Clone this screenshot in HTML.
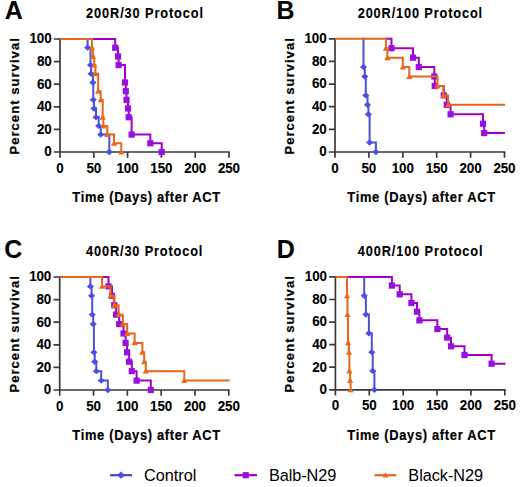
<!DOCTYPE html>
<html><head><meta charset="utf-8"><style>
html,body{margin:0;padding:0;background:#fff;width:520px;height:487px;overflow:hidden}
svg{display:block}
text{font-family:"Liberation Sans",sans-serif;fill:#000}
.L{font-size:25px;font-weight:bold}
.T{font-size:13.3px;font-weight:bold;stroke:#000;stroke-width:0.12px}
.Y{font-size:13px;font-weight:bold;stroke:#000;stroke-width:0.2px}
.X{font-size:13.6px;font-weight:bold;stroke:#000;stroke-width:0.2px}
.N{font-size:13.4px;font-weight:bold;stroke:#000;stroke-width:0.12px}
.G{font-size:16.3px}
</style></head><body>
<svg width="520" height="487" viewBox="0 0 520 487">
<text x="4.8" y="19.1" class="L">A</text>
<text transform="translate(86.1,17.6) scale(0.96,1.07)" class="T" textLength="121.77" lengthAdjust="spacing">200R/30 Protocol</text>
<text transform="translate(18.6,96.4) rotate(-90)" x="0" y="0" class="Y" text-anchor="middle" textLength="116.4" lengthAdjust="spacing">Percent survival</text>
<text transform="translate(146.2,201.9) scale(0.95,1.07)" class="X" text-anchor="middle" textLength="155.47" lengthAdjust="spacing">Time (Days) after ACT</text>
<path d="M60 38.2V152H229.8" fill="none" stroke="#3a3a3a" stroke-width="1.7"/>
<path d="M53.8 152H60M60 152V157.8M53.8 129.4H60M93.8 152V157.8M53.8 106.8H60M127.6 152V157.8M53.8 84.2H60M161.4 152V157.8M53.8 61.6H60M195.2 152V157.8M53.8 39H60M229 152V157.8" fill="none" stroke="#3a3a3a" stroke-width="1.7"/>
<text transform="translate(51.6,156.3) scale(1.0,1.07)" class="N" text-anchor="end" textLength="7.25" lengthAdjust="spacing">0</text>
<text transform="translate(60,172.5) scale(1.0,1.07)" class="N" text-anchor="middle" textLength="7.25" lengthAdjust="spacing">0</text>
<text transform="translate(51.6,133.7) scale(1.0,1.07)" class="N" text-anchor="end" textLength="14.7" lengthAdjust="spacing">20</text>
<text transform="translate(93.8,172.5) scale(1.0,1.07)" class="N" text-anchor="middle" textLength="14.7" lengthAdjust="spacing">50</text>
<text transform="translate(51.6,111.1) scale(1.0,1.07)" class="N" text-anchor="end" textLength="14.7" lengthAdjust="spacing">40</text>
<text transform="translate(127.6,172.5) scale(1.0,1.07)" class="N" text-anchor="middle" textLength="22.15" lengthAdjust="spacing">100</text>
<text transform="translate(51.6,88.5) scale(1.0,1.07)" class="N" text-anchor="end" textLength="14.7" lengthAdjust="spacing">60</text>
<text transform="translate(161.4,172.5) scale(1.0,1.07)" class="N" text-anchor="middle" textLength="22.15" lengthAdjust="spacing">150</text>
<text transform="translate(51.6,65.9) scale(1.0,1.07)" class="N" text-anchor="end" textLength="14.7" lengthAdjust="spacing">80</text>
<text transform="translate(195.2,172.5) scale(1.0,1.07)" class="N" text-anchor="middle" textLength="22.15" lengthAdjust="spacing">200</text>
<text transform="translate(51.6,43.3) scale(1.0,1.07)" class="N" text-anchor="end" textLength="22.15" lengthAdjust="spacing">100</text>
<text transform="translate(229,172.5) scale(1.0,1.07)" class="N" text-anchor="middle" textLength="22.15" lengthAdjust="spacing">250</text>
<path d="M86.6 39H87.6V47.7H90.5V65.1H91.1V73.8H92.9V82.51H93.3V99.79H94V108.5H96V117.2H98.7V125.9H100.7V134.6H109.3V152" fill="none" stroke="#4d4fd6" stroke-width="2"/>
<path d="M87.6 44.53L91.2 47.7L87.6 50.87L84 47.7Z" fill="#4a50e4"/><path d="M90.5 61.94L94.1 65.1L90.5 68.27L86.9 65.1Z" fill="#4a50e4"/><path d="M91.1 70.64L94.7 73.8L91.1 76.97L87.5 73.8Z" fill="#4a50e4"/><path d="M92.9 79.34L96.5 82.51L92.9 85.67L89.3 82.51Z" fill="#4a50e4"/><path d="M93.3 96.63L96.9 99.79L93.3 102.96L89.7 99.79Z" fill="#4a50e4"/><path d="M94 105.33L97.6 108.5L94 111.66L90.4 108.5Z" fill="#4a50e4"/><path d="M96 114.03L99.6 117.2L96 120.36L92.4 117.2Z" fill="#4a50e4"/><path d="M98.7 122.73L102.3 125.9L98.7 129.06L95.1 125.9Z" fill="#4a50e4"/><path d="M100.7 131.43L104.3 134.6L100.7 137.77L97.1 134.6Z" fill="#4a50e4"/><path d="M109.3 148.83L112.9 152L109.3 155.17L105.7 152Z" fill="#4a50e4"/>
<path d="M91 39H115.2V47.7H118V56.4H118.6V65.1H125V82.51H125.8V91.21H126.5V99.79H128V108.5H128.7V117.2H131.6V134.6H150.3V143.3H161.7V152" fill="none" stroke="#a200c4" stroke-width="2"/>
<rect x="112.1" y="44.6" width="6.2" height="6.2" fill="#9610e0"/><rect x="114.9" y="53.3" width="6.2" height="6.2" fill="#9610e0"/><rect x="115.5" y="62" width="6.2" height="6.2" fill="#9610e0"/><rect x="121.9" y="79.41" width="6.2" height="6.2" fill="#9610e0"/><rect x="122.7" y="88.11" width="6.2" height="6.2" fill="#9610e0"/><rect x="123.4" y="96.69" width="6.2" height="6.2" fill="#9610e0"/><rect x="124.9" y="105.4" width="6.2" height="6.2" fill="#9610e0"/><rect x="125.6" y="114.1" width="6.2" height="6.2" fill="#9610e0"/><rect x="128.5" y="131.5" width="6.2" height="6.2" fill="#9610e0"/><rect x="147.2" y="140.2" width="6.2" height="6.2" fill="#9610e0"/><rect x="158.6" y="148.9" width="6.2" height="6.2" fill="#9610e0"/>
<path d="M60 39H92V47.7H92.9V56.4H94.2V65.1H95.4V73.8H98.2V91.21H100.7V99.79H102.7V117.2H103.3V125.9H107.3V134.6H114V143.3H121.3V152" fill="none" stroke="#e4661f" stroke-width="2"/>
<path d="M92 44.6L95.1 50.18L88.9 50.18Z" fill="#ec6819"/><path d="M92.9 53.3L96 58.88L89.8 58.88Z" fill="#ec6819"/><path d="M94.2 62L97.3 67.58L91.1 67.58Z" fill="#ec6819"/><path d="M95.4 70.7L98.5 76.28L92.3 76.28Z" fill="#ec6819"/><path d="M98.2 88.11L101.3 93.69L95.1 93.69Z" fill="#ec6819"/><path d="M100.7 96.69L103.8 102.27L97.6 102.27Z" fill="#ec6819"/><path d="M102.7 114.1L105.8 119.68L99.6 119.68Z" fill="#ec6819"/><path d="M103.3 122.8L106.4 128.38L100.2 128.38Z" fill="#ec6819"/><path d="M107.3 131.5L110.4 137.08L104.2 137.08Z" fill="#ec6819"/><path d="M114 140.2L117.1 145.78L110.9 145.78Z" fill="#ec6819"/><path d="M121.3 148.9L124.4 154.48L118.2 154.48Z" fill="#ec6819"/>
<text x="276.5" y="18.8" class="L">B</text>
<text transform="translate(357.7,17.6) scale(0.96,1.07)" class="T" textLength="129.58" lengthAdjust="spacing">200R/100 Protocol</text>
<text transform="translate(293.6,96.4) rotate(-90)" x="0" y="0" class="Y" text-anchor="middle" textLength="116.4" lengthAdjust="spacing">Percent survival</text>
<text transform="translate(421.2,201.9) scale(0.95,1.07)" class="X" text-anchor="middle" textLength="155.47" lengthAdjust="spacing">Time (Days) after ACT</text>
<path d="M335 38V152H505.3" fill="none" stroke="#3a3a3a" stroke-width="1.7"/>
<path d="M328.8 152H335M335 152V157.8M328.8 129.36H335M368.9 152V157.8M328.8 106.72H335M402.8 152V157.8M328.8 84.08H335M436.7 152V157.8M328.8 61.44H335M470.6 152V157.8M328.8 38.8H335M504.5 152V157.8" fill="none" stroke="#3a3a3a" stroke-width="1.7"/>
<text transform="translate(326.6,156.3) scale(1.0,1.07)" class="N" text-anchor="end" textLength="7.25" lengthAdjust="spacing">0</text>
<text transform="translate(335,172.5) scale(1.0,1.07)" class="N" text-anchor="middle" textLength="7.25" lengthAdjust="spacing">0</text>
<text transform="translate(326.6,133.66) scale(1.0,1.07)" class="N" text-anchor="end" textLength="14.7" lengthAdjust="spacing">20</text>
<text transform="translate(368.9,172.5) scale(1.0,1.07)" class="N" text-anchor="middle" textLength="14.7" lengthAdjust="spacing">50</text>
<text transform="translate(326.6,111.02) scale(1.0,1.07)" class="N" text-anchor="end" textLength="14.7" lengthAdjust="spacing">40</text>
<text transform="translate(402.8,172.5) scale(1.0,1.07)" class="N" text-anchor="middle" textLength="22.15" lengthAdjust="spacing">100</text>
<text transform="translate(326.6,88.38) scale(1.0,1.07)" class="N" text-anchor="end" textLength="14.7" lengthAdjust="spacing">60</text>
<text transform="translate(436.7,172.5) scale(1.0,1.07)" class="N" text-anchor="middle" textLength="22.15" lengthAdjust="spacing">150</text>
<text transform="translate(326.6,65.74) scale(1.0,1.07)" class="N" text-anchor="end" textLength="14.7" lengthAdjust="spacing">80</text>
<text transform="translate(470.6,172.5) scale(1.0,1.07)" class="N" text-anchor="middle" textLength="22.15" lengthAdjust="spacing">200</text>
<text transform="translate(326.6,43.1) scale(1.0,1.07)" class="N" text-anchor="end" textLength="22.15" lengthAdjust="spacing">100</text>
<text transform="translate(504.5,172.5) scale(1.0,1.07)" class="N" text-anchor="middle" textLength="22.15" lengthAdjust="spacing">250</text>
<path d="M362.5 38.8H363.5V67.1H364.8V76.5H365.8V95.4H367.5V104.8H368.4V114.3H369.6V142.6H375.9V152" fill="none" stroke="#4d4fd6" stroke-width="2"/>
<path d="M363.5 63.93L367.1 67.1L363.5 70.27L359.9 67.1Z" fill="#4a50e4"/><path d="M364.8 73.33L368.4 76.5L364.8 79.66L361.2 76.5Z" fill="#4a50e4"/><path d="M365.8 92.23L369.4 95.4L365.8 98.57L362.2 95.4Z" fill="#4a50e4"/><path d="M367.5 101.63L371.1 104.8L367.5 107.96L363.9 104.8Z" fill="#4a50e4"/><path d="M368.4 111.14L372 114.3L368.4 117.47L364.8 114.3Z" fill="#4a50e4"/><path d="M369.6 139.44L373.2 142.6L369.6 145.77L366 142.6Z" fill="#4a50e4"/><path d="M375.9 148.83L379.5 152L375.9 155.17L372.3 152Z" fill="#4a50e4"/>
<path d="M384.9 38.8H391.5V48.2H413V57.7H418.8V67.1H434.3V76.5H434.7V86H443.8V95.4H446.8V104.8H450.6V114.3H483V123.7H484.2V133.1H505" fill="none" stroke="#a200c4" stroke-width="2"/>
<rect x="388.4" y="45.1" width="6.2" height="6.2" fill="#9610e0"/><rect x="409.9" y="54.6" width="6.2" height="6.2" fill="#9610e0"/><rect x="415.7" y="64" width="6.2" height="6.2" fill="#9610e0"/><rect x="431.2" y="73.4" width="6.2" height="6.2" fill="#9610e0"/><rect x="431.6" y="82.9" width="6.2" height="6.2" fill="#9610e0"/><rect x="440.7" y="92.3" width="6.2" height="6.2" fill="#9610e0"/><rect x="443.7" y="101.7" width="6.2" height="6.2" fill="#9610e0"/><rect x="447.5" y="111.2" width="6.2" height="6.2" fill="#9610e0"/><rect x="479.9" y="120.6" width="6.2" height="6.2" fill="#9610e0"/><rect x="481.1" y="130" width="6.2" height="6.2" fill="#9610e0"/>
<path d="M335 38.8H385.9V48.2H387.4V57.7H402.8V67.1H409.3V76.5H437.5V86H443.5V95.4H448V104.8H505" fill="none" stroke="#e4661f" stroke-width="2"/>
<path d="M385.9 45.1L389 50.68L382.8 50.68Z" fill="#ec6819"/><path d="M387.4 54.6L390.5 60.18L384.3 60.18Z" fill="#ec6819"/><path d="M402.8 64L405.9 69.58L399.7 69.58Z" fill="#ec6819"/><path d="M409.3 73.4L412.4 78.98L406.2 78.98Z" fill="#ec6819"/><path d="M437.5 82.9L440.6 88.48L434.4 88.48Z" fill="#ec6819"/><path d="M443.5 92.3L446.6 97.88L440.4 97.88Z" fill="#ec6819"/><path d="M448 101.7L451.1 107.28L444.9 107.28Z" fill="#ec6819"/>
<text x="4.2" y="258.1" class="L">C</text>
<text transform="translate(86.1,255.6) scale(0.96,1.07)" class="T" textLength="121.15" lengthAdjust="spacing">400R/30 Protocol</text>
<text transform="translate(18.6,334.4) rotate(-90)" x="0" y="0" class="Y" text-anchor="middle" textLength="116.4" lengthAdjust="spacing">Percent survival</text>
<text transform="translate(146.2,439.9) scale(0.95,1.07)" class="X" text-anchor="middle" textLength="155.47" lengthAdjust="spacing">Time (Days) after ACT</text>
<path d="M59.7 276.2V390H229.6" fill="none" stroke="#3a3a3a" stroke-width="1.7"/>
<path d="M53.5 390H59.7M59.7 390V395.8M53.5 367.4H59.7M93.52 390V395.8M53.5 344.8H59.7M127.34 390V395.8M53.5 322.2H59.7M161.16 390V395.8M53.5 299.6H59.7M194.98 390V395.8M53.5 277H59.7M228.8 390V395.8" fill="none" stroke="#3a3a3a" stroke-width="1.7"/>
<text transform="translate(51.3,394.3) scale(1.0,1.07)" class="N" text-anchor="end" textLength="7.25" lengthAdjust="spacing">0</text>
<text transform="translate(59.7,410.5) scale(1.0,1.07)" class="N" text-anchor="middle" textLength="7.25" lengthAdjust="spacing">0</text>
<text transform="translate(51.3,371.7) scale(1.0,1.07)" class="N" text-anchor="end" textLength="14.7" lengthAdjust="spacing">20</text>
<text transform="translate(93.52,410.5) scale(1.0,1.07)" class="N" text-anchor="middle" textLength="14.7" lengthAdjust="spacing">50</text>
<text transform="translate(51.3,349.1) scale(1.0,1.07)" class="N" text-anchor="end" textLength="14.7" lengthAdjust="spacing">40</text>
<text transform="translate(127.34,410.5) scale(1.0,1.07)" class="N" text-anchor="middle" textLength="22.15" lengthAdjust="spacing">100</text>
<text transform="translate(51.3,326.5) scale(1.0,1.07)" class="N" text-anchor="end" textLength="14.7" lengthAdjust="spacing">60</text>
<text transform="translate(161.16,410.5) scale(1.0,1.07)" class="N" text-anchor="middle" textLength="22.15" lengthAdjust="spacing">150</text>
<text transform="translate(51.3,303.9) scale(1.0,1.07)" class="N" text-anchor="end" textLength="14.7" lengthAdjust="spacing">80</text>
<text transform="translate(194.98,410.5) scale(1.0,1.07)" class="N" text-anchor="middle" textLength="22.15" lengthAdjust="spacing">200</text>
<text transform="translate(51.3,281.3) scale(1.0,1.07)" class="N" text-anchor="end" textLength="22.15" lengthAdjust="spacing">100</text>
<text transform="translate(228.8,410.5) scale(1.0,1.07)" class="N" text-anchor="middle" textLength="22.15" lengthAdjust="spacing">250</text>
<path d="M89.4 277H90.4V286.38H91.6V295.87H92.2V314.63H93.2V324.12H93.9V352.37H94.7V361.75H96.3V371.13H101.2V380.62H107.8V390" fill="none" stroke="#4d4fd6" stroke-width="2"/>
<path d="M90.4 283.21L94 286.38L90.4 289.55L86.8 286.38Z" fill="#4a50e4"/><path d="M91.6 292.7L95.2 295.87L91.6 299.04L88 295.87Z" fill="#4a50e4"/><path d="M92.2 311.46L95.8 314.63L92.2 317.8L88.6 314.63Z" fill="#4a50e4"/><path d="M93.2 320.95L96.8 324.12L93.2 327.29L89.6 324.12Z" fill="#4a50e4"/><path d="M93.9 349.2L97.5 352.37L93.9 355.54L90.3 352.37Z" fill="#4a50e4"/><path d="M94.7 358.58L98.3 361.75L94.7 364.92L91.1 361.75Z" fill="#4a50e4"/><path d="M96.3 367.96L99.9 371.13L96.3 374.3L92.7 371.13Z" fill="#4a50e4"/><path d="M101.2 377.45L104.8 380.62L101.2 383.79L97.6 380.62Z" fill="#4a50e4"/><path d="M107.8 386.83L111.4 390L107.8 393.17L104.2 390Z" fill="#4a50e4"/>
<path d="M101 277H108.5V286.38H112V295.87H114.2V305.25H116.1V314.63H119.2V324.12H123.5V333.5H125.6V342.88H127.1V352.37H129.1V361.75H131.8V371.13H136.6V380.62H150.8V390" fill="none" stroke="#a200c4" stroke-width="2"/>
<rect x="105.4" y="283.28" width="6.2" height="6.2" fill="#9610e0"/><rect x="108.9" y="292.77" width="6.2" height="6.2" fill="#9610e0"/><rect x="111.1" y="302.15" width="6.2" height="6.2" fill="#9610e0"/><rect x="113" y="311.53" width="6.2" height="6.2" fill="#9610e0"/><rect x="116.1" y="321.02" width="6.2" height="6.2" fill="#9610e0"/><rect x="120.4" y="330.4" width="6.2" height="6.2" fill="#9610e0"/><rect x="122.5" y="339.78" width="6.2" height="6.2" fill="#9610e0"/><rect x="124" y="349.27" width="6.2" height="6.2" fill="#9610e0"/><rect x="126" y="358.65" width="6.2" height="6.2" fill="#9610e0"/><rect x="128.7" y="368.03" width="6.2" height="6.2" fill="#9610e0"/><rect x="133.5" y="377.52" width="6.2" height="6.2" fill="#9610e0"/><rect x="147.7" y="386.9" width="6.2" height="6.2" fill="#9610e0"/>
<path d="M59.7 277H102V286.38H110.5V295.87H114.2V305.25H118.6V314.63H122.9V324.12H127.2V333.5H134.6V342.88H142.4V352.37H144.2V361.75H145.8V371.13H184.3V380.62H229.6" fill="none" stroke="#e4661f" stroke-width="2"/>
<path d="M102 283.28L105.1 288.86L98.9 288.86Z" fill="#ec6819"/><path d="M110.5 292.77L113.6 298.35L107.4 298.35Z" fill="#ec6819"/><path d="M114.2 302.15L117.3 307.73L111.1 307.73Z" fill="#ec6819"/><path d="M118.6 311.53L121.7 317.11L115.5 317.11Z" fill="#ec6819"/><path d="M122.9 321.02L126 326.6L119.8 326.6Z" fill="#ec6819"/><path d="M127.2 330.4L130.3 335.98L124.1 335.98Z" fill="#ec6819"/><path d="M134.6 339.78L137.7 345.36L131.5 345.36Z" fill="#ec6819"/><path d="M142.4 349.27L145.5 354.85L139.3 354.85Z" fill="#ec6819"/><path d="M144.2 358.65L147.3 364.23L141.1 364.23Z" fill="#ec6819"/><path d="M145.8 368.03L148.9 373.61L142.7 373.61Z" fill="#ec6819"/><path d="M184.3 377.52L187.4 383.1L181.2 383.1Z" fill="#ec6819"/>
<text x="276.8" y="257.7" class="L">D</text>
<text transform="translate(357.7,255.6) scale(0.96,1.07)" class="T" textLength="130.1" lengthAdjust="spacing">400R/100 Protocol</text>
<text transform="translate(293.6,334.4) rotate(-90)" x="0" y="0" class="Y" text-anchor="middle" textLength="116.4" lengthAdjust="spacing">Percent survival</text>
<text transform="translate(421.2,439.9) scale(0.95,1.07)" class="X" text-anchor="middle" textLength="155.47" lengthAdjust="spacing">Time (Days) after ACT</text>
<path d="M335.4 276.1V389.8H505.6" fill="none" stroke="#3a3a3a" stroke-width="1.7"/>
<path d="M329.2 389.8H335.4M335.4 389.8V395.6M329.2 367.22H335.4M369.28 389.8V395.6M329.2 344.64H335.4M403.16 389.8V395.6M329.2 322.06H335.4M437.04 389.8V395.6M329.2 299.48H335.4M470.92 389.8V395.6M329.2 276.9H335.4M504.8 389.8V395.6" fill="none" stroke="#3a3a3a" stroke-width="1.7"/>
<text transform="translate(327,394.1) scale(1.0,1.07)" class="N" text-anchor="end" textLength="7.25" lengthAdjust="spacing">0</text>
<text transform="translate(335.4,410.3) scale(1.0,1.07)" class="N" text-anchor="middle" textLength="7.25" lengthAdjust="spacing">0</text>
<text transform="translate(327,371.52) scale(1.0,1.07)" class="N" text-anchor="end" textLength="14.7" lengthAdjust="spacing">20</text>
<text transform="translate(369.28,410.3) scale(1.0,1.07)" class="N" text-anchor="middle" textLength="14.7" lengthAdjust="spacing">50</text>
<text transform="translate(327,348.94) scale(1.0,1.07)" class="N" text-anchor="end" textLength="14.7" lengthAdjust="spacing">40</text>
<text transform="translate(403.16,410.3) scale(1.0,1.07)" class="N" text-anchor="middle" textLength="22.15" lengthAdjust="spacing">100</text>
<text transform="translate(327,326.36) scale(1.0,1.07)" class="N" text-anchor="end" textLength="14.7" lengthAdjust="spacing">60</text>
<text transform="translate(437.04,410.3) scale(1.0,1.07)" class="N" text-anchor="middle" textLength="22.15" lengthAdjust="spacing">150</text>
<text transform="translate(327,303.78) scale(1.0,1.07)" class="N" text-anchor="end" textLength="14.7" lengthAdjust="spacing">80</text>
<text transform="translate(470.92,410.3) scale(1.0,1.07)" class="N" text-anchor="middle" textLength="22.15" lengthAdjust="spacing">200</text>
<text transform="translate(327,281.2) scale(1.0,1.07)" class="N" text-anchor="end" textLength="22.15" lengthAdjust="spacing">100</text>
<text transform="translate(504.8,410.3) scale(1.0,1.07)" class="N" text-anchor="middle" textLength="22.15" lengthAdjust="spacing">250</text>
<path d="M363.2 276.9H364.2V295.75H365.9V314.5H368.9V333.35H371.8V352.2H372.7V370.95H374.4V389.8" fill="none" stroke="#4d4fd6" stroke-width="2"/>
<path d="M364.2 292.59L367.8 295.75L364.2 298.92L360.6 295.75Z" fill="#4a50e4"/><path d="M365.9 311.33L369.5 314.5L365.9 317.66L362.3 314.5Z" fill="#4a50e4"/><path d="M368.9 330.18L372.5 333.35L368.9 336.52L365.3 333.35Z" fill="#4a50e4"/><path d="M371.8 349.04L375.4 352.2L371.8 355.37L368.2 352.2Z" fill="#4a50e4"/><path d="M372.7 367.78L376.3 370.95L372.7 374.11L369.1 370.95Z" fill="#4a50e4"/><path d="M374.4 386.63L378 389.8L374.4 392.97L370.8 389.8Z" fill="#4a50e4"/>
<path d="M346 276.9H391.9V285.59H399.7V294.29H411.4V302.98H417V311.67H419.4V320.37H437.4V329.06H447.2V337.64H451V346.33H464.5V355.03H491.6V363.72H505.5" fill="none" stroke="#a200c4" stroke-width="2"/>
<rect x="388.8" y="282.49" width="6.2" height="6.2" fill="#9610e0"/><rect x="396.6" y="291.19" width="6.2" height="6.2" fill="#9610e0"/><rect x="408.3" y="299.88" width="6.2" height="6.2" fill="#9610e0"/><rect x="413.9" y="308.57" width="6.2" height="6.2" fill="#9610e0"/><rect x="416.3" y="317.27" width="6.2" height="6.2" fill="#9610e0"/><rect x="434.3" y="325.96" width="6.2" height="6.2" fill="#9610e0"/><rect x="444.1" y="334.54" width="6.2" height="6.2" fill="#9610e0"/><rect x="447.9" y="343.23" width="6.2" height="6.2" fill="#9610e0"/><rect x="461.4" y="351.93" width="6.2" height="6.2" fill="#9610e0"/><rect x="488.5" y="360.62" width="6.2" height="6.2" fill="#9610e0"/>
<path d="M335.4 276.9H347V295.75H347.5V314.5H348V342.72H348.9V352.2H349.4V370.95H350.1V380.43H350.6V389.8" fill="none" stroke="#e4661f" stroke-width="2"/>
<path d="M347 292.65L350.1 298.23L343.9 298.23Z" fill="#ec6819"/><path d="M347.5 311.4L350.6 316.98L344.4 316.98Z" fill="#ec6819"/><path d="M348 339.62L351.1 345.2L344.9 345.2Z" fill="#ec6819"/><path d="M348.9 349.1L352 354.68L345.8 354.68Z" fill="#ec6819"/><path d="M349.4 367.85L352.5 373.43L346.3 373.43Z" fill="#ec6819"/><path d="M350.1 377.33L353.2 382.91L347 382.91Z" fill="#ec6819"/><path d="M350.6 386.7L353.7 392.28L347.5 392.28Z" fill="#ec6819"/>
<path d="M110 475.2H132" stroke="#4444cc" stroke-width="2.2"/>
<path d="M121 471.59L125.1 475.2L121 478.81L116.9 475.2Z" fill="#4a50e4"/>
<text x="144" y="480.5" class="G" textLength="52.4" lengthAdjust="spacing">Control</text>
<path d="M234.5 475.2H257" stroke="#a200c4" stroke-width="2.2"/>
<rect x="242.65" y="472.1" width="6.2" height="6.2" fill="#9610e0"/>
<text x="269" y="480.5" class="G" textLength="67.3" lengthAdjust="spacing">Balb-N29</text>
<path d="M374.5 475.2H396.3" stroke="#e4661f" stroke-width="2.2"/>
<path d="M385.4 472.2L388.4 477.6L382.4 477.6Z" fill="#ec6819"/>
<text x="408.3" y="480.5" class="G" textLength="74.8" lengthAdjust="spacing">Black-N29</text>
</svg>
</body></html>
